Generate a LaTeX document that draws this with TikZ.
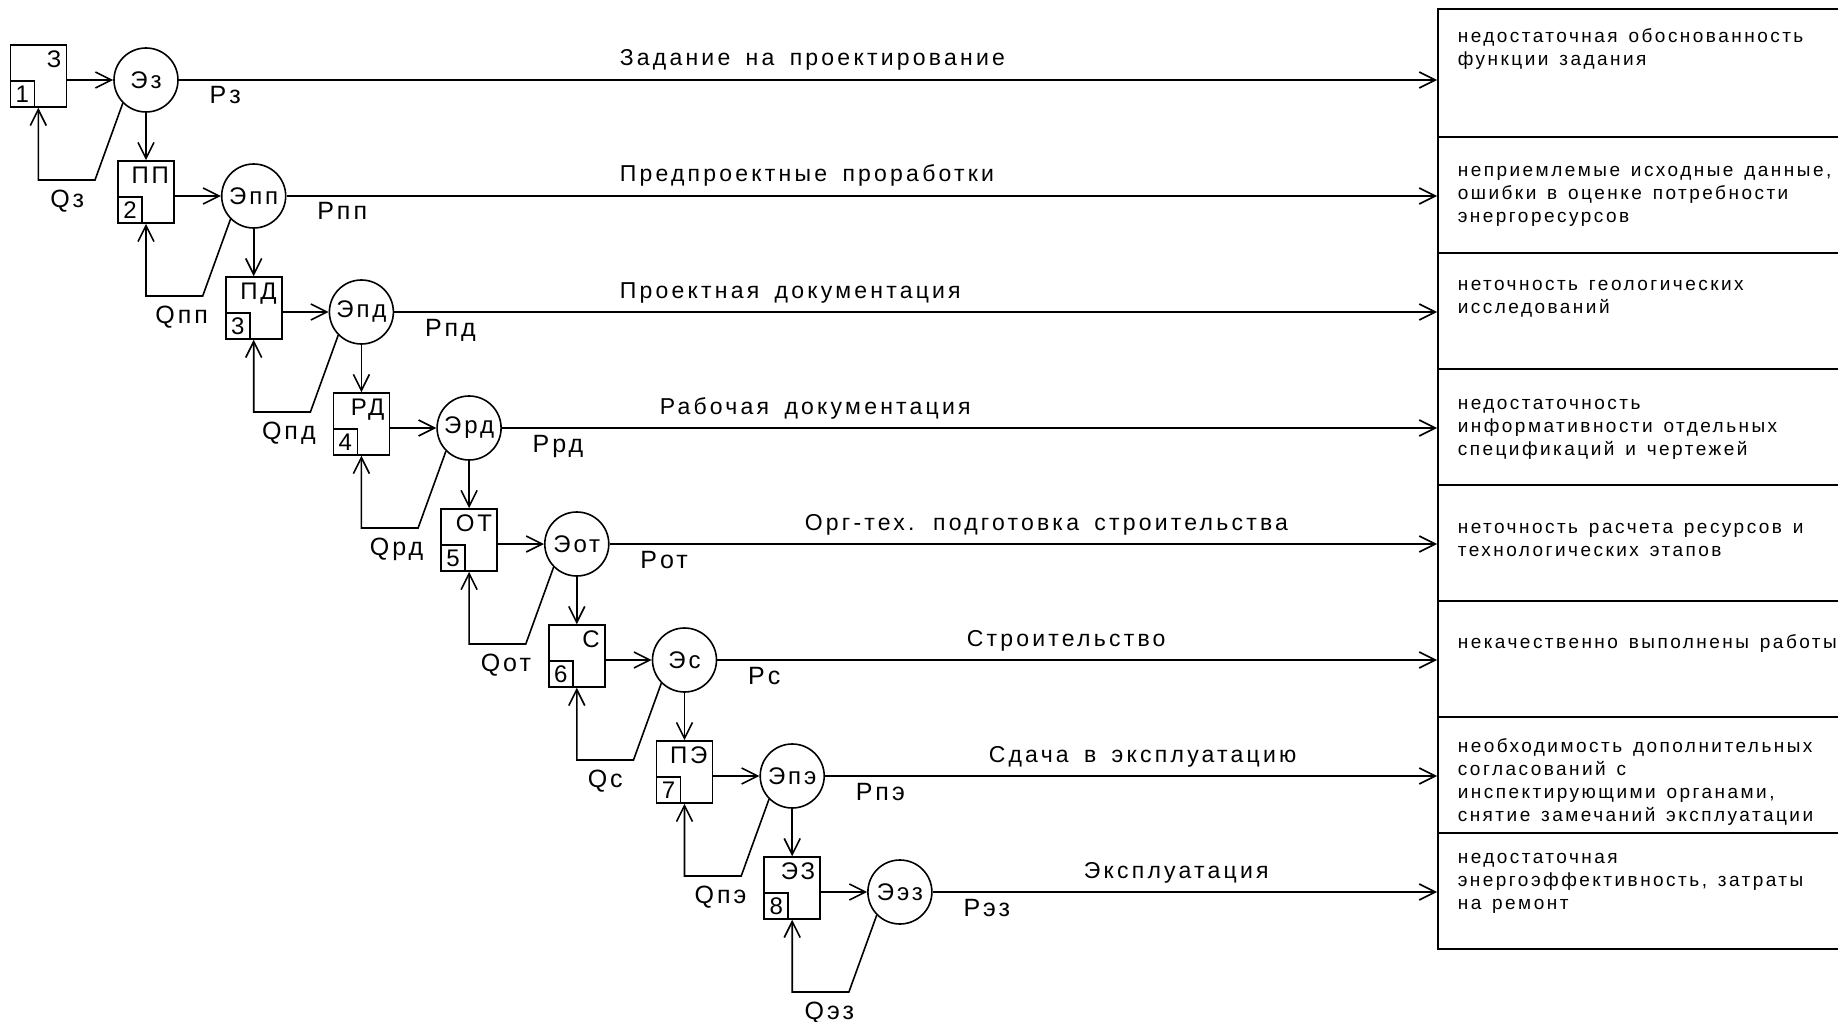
\documentclass[tikz,border=0pt]{standalone}
\usepackage{fontspec}
\setmainfont{Liberation Sans}[LetterSpace=12, WordSpace=1.6]
\newfontfamily\notefont{Liberation Sans}[LetterSpace=13, WordSpace=1.4]
\usepackage{tikz}
\usetikzlibrary{arrows.meta, positioning}

\begin{document}
\begin{tikzpicture}[x=0.5pt, y=-0.5pt, line width=0.8pt,
          arr/.style={-{Straight Barb[length=8pt,width=8pt]}},
          stagebox/.style={draw,minimum width=28pt,minimum height=31pt,inner sep=0pt},
          numbox/.style={draw,minimum width=12pt,minimum height=13pt,inner sep=0pt,
                         font=\fontsize{12}{12}\selectfont},
          boxlbl/.style={inner sep=0pt,font=\fontsize{12}{12}\selectfont},
          stagecirc/.style={draw,circle,minimum size=32pt,inner sep=0pt,
                            font=\fontsize{12}{12}\selectfont},
          flowlbl/.style={inner sep=0pt,font=\fontsize{12.5}{13}\selectfont},
          stagelbl/.style={inner sep=0pt,
                           font=\fontsize{11.5}{13}\selectfont\addfontfeature{LetterSpace=14}},
          rowbox/.style={draw,minimum width=240pt,inner sep=0pt},
          notelbl/.style={inner sep=0pt,align=left,
                          font=\notefont\fontsize{9.5}{11.5}\selectfont}]
        \useasboundingbox (0,0) rectangle (1838,1022);
        \clip (0,0) rectangle (1838,1022);
        % stages: box, estimate, result, loss
        \foreach \i/\bl/\sub/\qx/\sx/\stage/\ny/\note in {
            1/З/з/-10/619/{Задание на проектирование}/-52/{недостаточная обоснованность\\функции задания},
            2/ПП/пп/6/619/{Предпроектные проработки}/-31/{неприемлемые исходные данные,\\ошибки в оценке потребности\\энергоресурсов},
            3/ПД/пд/6/619/{Проектная документация}/-33/{неточность геологических\\исследований},
            4/РД/рд/6/659/{Рабочая документация}/-30/{недостаточность\\информативности отдельных\\спецификаций и чертежей},
            5/ОТ/от/6/804/{Орг-тех. подготовка строительства}/-22/{неточность расчета ресурсов и\\технологических этапов},
            6/С/с/-10/966/{Строительство}/-26/{некачественно выполнены работы},
            7/ПЭ/пэ/6/988/{Сдача в эксплуатацию}/-38/{необходимость дополнительных\\согласований с\\инспектирующими органами,\\снятие замечаний эксплуатации},
            8/ЭЗ/эз/6/1083/{Эксплуатация}/-40/{недостаточная\\энергоэффективность, затраты\\на ремонт}}{
          \pgfmathsetmacro\cx{146+107.7*(\i-1)}
          \pgfmathsetmacro\cy{80+116*(\i-1)}
          \pgfmathsetmacro\rh{\i==1 ? 64 : 58}
          \node[stagecirc](e\i) at (\cx,\cy){Э\sub};
          \node[stagebox](b\i) at (\cx-107.7,\cy-4){};
          \node[numbox,anchor=south west](n\i) at (b\i.south west){\i};
          \node[boxlbl,anchor=north east](t\i) at ([shift={(-5,6)}]b\i.north east){\bl};
          \node[flowlbl,anchor=north west](p\i) at ([shift={(30,6)}]e\i.east){P\sub};
          \coordinate (c\i) at ([shift={(-51,100)}]e\i.center);
          \node[flowlbl,anchor=north east](q\i) at ([shift={(\qx,9)}]c\i){Q\sub};
          \node[stagelbl,anchor=base west](s\i) at (\sx,\cy-14){\stage};
          \node[rowbox,minimum height=\rh pt,anchor=south west](r\i) at (1437,\cy+58){};
          \node[notelbl,anchor=north west](m\i) at (1457,\cy+\ny){\note};
          \draw[arr](b\i.east |- e\i.center)--(e\i.west);
          \draw[arr](e\i.east)--(e\i.center -| r\i.west);
          \draw[arr](e\i.south west)--(c\i)-|(b\i.south);
        }
        \foreach \i [count=\j from 2] in {1,...,7}
          \draw[arr](e\i.south)--(b\j.north);
      \end{tikzpicture}
\end{document}
